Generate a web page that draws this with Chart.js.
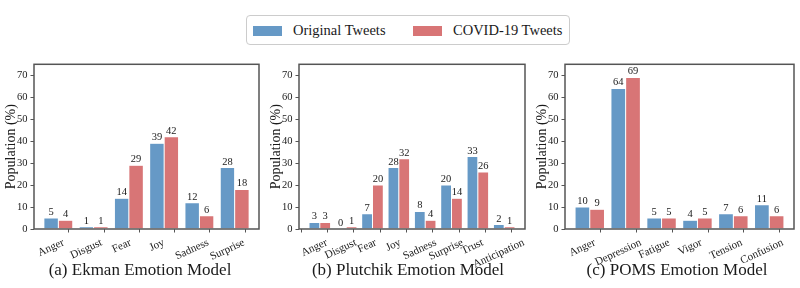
<!DOCTYPE html>
<html>
<head>
<meta charset="utf-8">
<script src="https://cdn.jsdelivr.net/npm/chart.js@4"></script>
<style>
  html, body { margin: 0; padding: 0; background: #fff; }
  body { width: 800px; height: 288px; position: relative; overflow: hidden; font-family: "Liberation Serif", serif; color: #1a1a1a; }
  .panel { position: absolute; top: 55px; height: 233px; }
  .legend { position: absolute; left: 246px; top: 15px; width: 322px; height: 28px; border: 1px solid #ccc; border-radius: 4px; }
  .legend span.sw { position: absolute; top: 10px; width: 29px; height: 10px; }
  .legend span.tx { position: absolute; top: 5px; font-size: 14.5px; line-height: 18px; }
  .sub { position: absolute; top: 259px; width: 260px; text-align: center; font-size: 17px; line-height: 22px; }
</style>
</head>
<body>
<div class="legend" id="legend"></div>
<div class="panel" style="left:0;width:265px"><canvas id="c1"></canvas></div>
<div class="panel" style="left:265px;width:266px"><canvas id="c2"></canvas></div>
<div class="panel" style="left:531px;width:269px"><canvas id="c3"></canvas></div>
<div class="sub" id="s1" style="left:10px"></div>
<div class="sub" id="s2" style="left:278px"></div>
<div class="sub" id="s3" style="left:547px"></div>
<script>
const seriesNames = ["Original Tweets", "COVID-19 Tweets"];
const seriesColors = ["#6699c6", "#d87576"];
const subtitles = ["(a) Ekman Emotion Model", "(b) Plutchik Emotion Model", "(c) POMS Emotion Model"];
const yTicks = [0, 10, 20, 30, 40, 50, 60, 70];

const ekmanCats = ["Anger", "Disgust", "Fear", "Joy", "Sadness", "Surprise"];
const ekmanOrig = [5, 1, 14, 39, 12, 28];
const ekmanCovid = [4, 1, 29, 42, 6, 18];

const plutchikCats = ["Anger", "Disgust", "Fear", "Joy", "Sadness", "Surprise", "Trust", "Anticipation"];
const plutchikOrig = [3, 0, 7, 28, 8, 20, 33, 2];
const plutchikCovid = [3, 1, 20, 32, 4, 14, 26, 1];

const pomsCats = ["Anger", "Depression", "Fatigue", "Vigor", "Tension", "Confusion"];
const pomsOrig = [10, 64, 5, 4, 7, 11];
const pomsCovid = [9, 69, 5, 5, 6, 6];

const axisColor = "#555";
const textColor = "#1a1a1a";
const groupWidth = 0.82;            // two bars per category
const tickShift = -groupWidth / 4;  // ticks sit under the first (blue) bar
Chart.defaults.font.family = '"Liberation Serif", serif';
Chart.defaults.color = textColor;

// legend + subtitles as plain html text
const legend = document.getElementById("legend");
legend.innerHTML =
  `<span class="sw" style="left:6px;background:${seriesColors[0]}"></span>` +
  `<span class="tx" style="left:46px">${seriesNames[0]}</span>` +
  `<span class="sw" style="left:166px;background:${seriesColors[1]}"></span>` +
  `<span class="tx" style="left:206px">${seriesNames[1]}</span>`;
subtitles.forEach((t, i) => document.getElementById("s" + (i + 1)).textContent = t);

// value labels, full frame and rotated category labels (matplotlib style)
const decorations = {
  id: "decorations",
  afterDatasetsDraw(chart) {
    const { ctx, chartArea: a } = chart;
    ctx.save();
    ctx.font = '10.5px "Liberation Serif"';
    ctx.fillStyle = textColor;
    ctx.textAlign = "center";
    ctx.textBaseline = "bottom";
    chart.data.datasets.forEach((ds, di) => {
      chart.getDatasetMeta(di).data.forEach((bar, i) => {
        ctx.fillText(ds.data[i].y, bar.x, bar.y - 0.5);
      });
    });

    ctx.strokeStyle = axisColor;
    ctx.lineWidth = 1.5;
    ctx.strokeRect(a.left, a.top, a.right - a.left, a.bottom - a.top);

    const xs = chart.scales.x;
    const fs = 11;
    const ang = 25 * Math.PI / 180;
    ctx.font = fs + 'px "Liberation Serif"';
    ctx.textBaseline = "middle";
    chart.data.labels.forEach((lab, i) => {
      const w = ctx.measureText(lab).width;
      const bh = w * Math.sin(ang) + fs * Math.cos(ang);
      ctx.save();
      ctx.translate(xs.getPixelForValue(i + tickShift), a.bottom + 8 + bh / 2);
      ctx.rotate(-ang);
      ctx.fillText(lab, 0, 0);
      ctx.restore();
    });
    ctx.restore();
  }
};

function makeChart(id, cats, orig, covid) {
  const n = cats.length;
  const margin = 0.05 * (n - 1 + 0.8);
  const vals = [orig, covid];
  new Chart(document.getElementById(id), {
    type: "bar",
    data: {
      labels: cats,
      datasets: vals.map((v, k) => ({
        label: seriesNames[k],
        data: cats.map((c, i) => ({ x: i, y: v[i] })),
        backgroundColor: seriesColors[k],
        borderColor: "rgba(255,255,255,0.8)",
        borderWidth: 0.5,
        categoryPercentage: groupWidth,
        barPercentage: 1.0
      }))
    },
    options: {
      responsive: true,
      maintainAspectRatio: false,
      animation: false,
      layout: { padding: { top: 8, right: 6, left: 0, bottom: 0 } },
      plugins: { legend: { display: false }, tooltip: { enabled: false } },
      scales: {
        x: {
          type: "linear",
          offset: false,
          min: -0.4 - margin,
          max: n - 1 + 0.4 + margin,
          afterBuildTicks: s => { s.ticks = cats.map((c, i) => ({ value: i + tickShift })); },
          afterFit: s => { s.height = 59; },
          ticks: { display: false },
          border: { display: false },
          grid: { drawOnChartArea: false, drawTicks: true, tickLength: 3.5, color: axisColor, lineWidth: 1 }
        },
        y: {
          min: 0,
          max: 75,
          afterBuildTicks: s => { s.ticks = yTicks.map(v => ({ value: v })); },
          afterFit: s => { s.width = 34; },
          ticks: { font: { size: 10.5 }, color: textColor, padding: 3 },
          border: { display: false },
          grid: { drawOnChartArea: false, drawTicks: true, tickLength: 3.5, color: axisColor, lineWidth: 1 },
          title: { display: true, text: "Population (%)", font: { size: 14 }, color: textColor, padding: { top: 3, bottom: 0 } }
        }
      }
    },
    plugins: [decorations]
  });
}

makeChart("c1", ekmanCats, ekmanOrig, ekmanCovid);
makeChart("c2", plutchikCats, plutchikOrig, plutchikCovid);
makeChart("c3", pomsCats, pomsOrig, pomsCovid);
</script>
</body>
</html>
